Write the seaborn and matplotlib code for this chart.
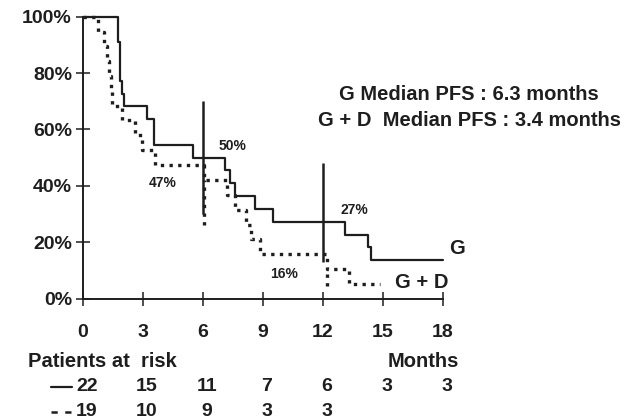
import numpy as np
import pandas as pd
import matplotlib
matplotlib.use("Agg")
import matplotlib.pyplot as plt
import matplotlib.transforms as mtransforms
from matplotlib.lines import Line2D
import seaborn as sns

# Kaplan-Meier steps (months, % progression-free)
g_time = [0, 1.73, 1.85, 1.97, 2.07, 3.18, 3.55, 5.48, 7.1, 7.35, 7.6, 8.6, 9.48, 13.1, 14.27, 14.4, 18]
g_surv = [100, 90.9, 77.3, 72.7, 68.2, 63.6, 54.5, 50.0, 45.5, 40.9, 36.4, 31.8, 27.3, 22.7, 18.2, 13.6, 13.6]

gd_time = [0, 0.75, 1.05, 1.2, 1.3, 1.38, 1.45, 1.95, 2.6, 2.95, 3.6, 6.05, 7.2, 7.6,
           8.15, 8.4, 8.85, 12.2, 13.3, 14.85]
gd_surv = [100, 94.7, 89.5, 84.2, 78.9, 73.7, 68.4, 63.2, 57.9, 52.6, 47.4, 42.1, 36.8, 31.6,
           26.3, 21.1, 15.8, 10.5, 5.3, 5.3]

# landmark marks at 6 and 12 months
landmark_x = [6.0, 12.0]
landmark_lo = [30, 13]
landmark_hi = [70, 48]
landmark_dot_x = [6.05, 12.2]
landmark_dot_lo = [26, 4.5]
landmark_dot_hi = [42.1, 10.5]

landmark_labels = ["47%", "50%", "16%", "27%"]
landmark_label_x = [3.97, 7.47, 10.06, 13.58]
landmark_label_y = [40.9, 54.1, 8.9, 31.6]

risk_months = [0, 3, 6, 9, 12, 15, 18]
risk_g = [22, 15, 11, 7, 6, 3, 3]
risk_gd = [19, 10, 9, 3, 3]

median_lines = ["G Median PFS : 6.3 months", "G + D  Median PFS : 3.4 months"]

sns.set_style("ticks")
plt.rcParams["font.family"] = ["Liberation Sans", "DejaVu Sans"]
plt.rcParams["font.weight"] = "bold"

ink = "#1e1e1e"
dots = (0, (1.0, 1.6))
W, H = 641, 419
fig = plt.figure(figsize=(W / 100, H / 100), dpi=100)
ax = fig.add_axes([83 / W, 1 - 298.7 / H, (443 - 83) / W, (298.7 - 16.7) / H])

df_g = pd.DataFrame({"month": g_time, "pfs": g_surv})
df_gd = pd.DataFrame({"month": gd_time, "pfs": gd_surv})
sns.lineplot(data=df_g, x="month", y="pfs", ax=ax, drawstyle="steps-post",
             estimator=None, color=ink, linewidth=1.6, clip_on=False)
sns.lineplot(data=df_gd, x="month", y="pfs", ax=ax, drawstyle="steps-post",
             estimator=None, color=ink, linewidth=2.4, linestyle=dots,
             clip_on=False)

ax.vlines(landmark_x, landmark_lo, landmark_hi, color=ink, linewidth=1.8)
ax.vlines(landmark_dot_x, landmark_dot_lo, landmark_dot_hi, color=ink,
          linewidth=2.4, linestyles=[dots])

for lab, lx, ly in zip(landmark_labels, landmark_label_x, landmark_label_y):
    ax.text(lx, ly, lab, fontsize=10, ha="center", va="center", color=ink)

ax.text(18.68, 17.9, "G", fontsize=14.5, ha="center", va="center", color=ink)
ax.text(16.93, 5.9, "G + D", fontsize=14.5, ha="center", va="center", color=ink)

ax.set_xlim(0, 18)
ax.set_ylim(0, 100)
ax.set_xticks(risk_months)
ax.set_yticks([0, 20, 40, 60, 80, 100])
ax.set_yticklabels([f"{v}%" for v in [0, 20, 40, 60, 80, 100]])
ax.set_xlabel("")
ax.set_ylabel("")
ax.tick_params(axis="both", direction="inout", length=10, width=1.1, colors=ink,
               labelsize=14, labelcolor=ink, bottom=True, left=True)
ax.tick_params(axis="x", pad=13)
ax.tick_params(axis="y", pad=3)
for lbl in ax.get_xticklabels() + ax.get_yticklabels():
    lbl.set_fontweight("bold")

sns.despine(ax=ax)
for s in ["left", "bottom"]:
    ax.spines[s].set_color(ink)
    ax.spines[s].set_linewidth(1.4)

# median PFS text
for line, ypix in zip(median_lines, [94, 120.7]):
    fig.text(469 / W, 1 - ypix / H, line, fontsize=14.5, ha="center", va="center", color=ink)

# risk table
tr = mtransforms.blended_transform_factory(ax.transData, fig.transFigure)
fig.text(28 / W, 1 - 361.5 / H, "Patients at  risk", fontsize=14.5, ha="left", va="center", color=ink)
fig.text(423 / W, 1 - 361.5 / H, "Months", fontsize=14.5, ha="center", va="center", color=ink)
for m, n in zip(risk_months, risk_g):
    ax.text(m + 0.2, 1 - 386.5 / H, str(n), transform=tr, fontsize=14,
            ha="center", va="center", color=ink, clip_on=False)
for m, n in zip(risk_months, risk_gd):
    ax.text(m + 0.2, 1 - 411.5 / H, str(n), transform=tr, fontsize=14,
            ha="center", va="center", color=ink, clip_on=False)

fig.add_artist(Line2D([51 / W, 72 / W], [1 - 387 / H, 1 - 387 / H], color=ink,
                      linewidth=1.6, transform=fig.transFigure))
fig.add_artist(Line2D([51 / W, 72 / W], [1 - 412 / H, 1 - 412 / H], color=ink,
                      linewidth=1.8, linestyle=(0, (2.5, 3)), transform=fig.transFigure))

fig.savefig("out.png", dpi=100)
